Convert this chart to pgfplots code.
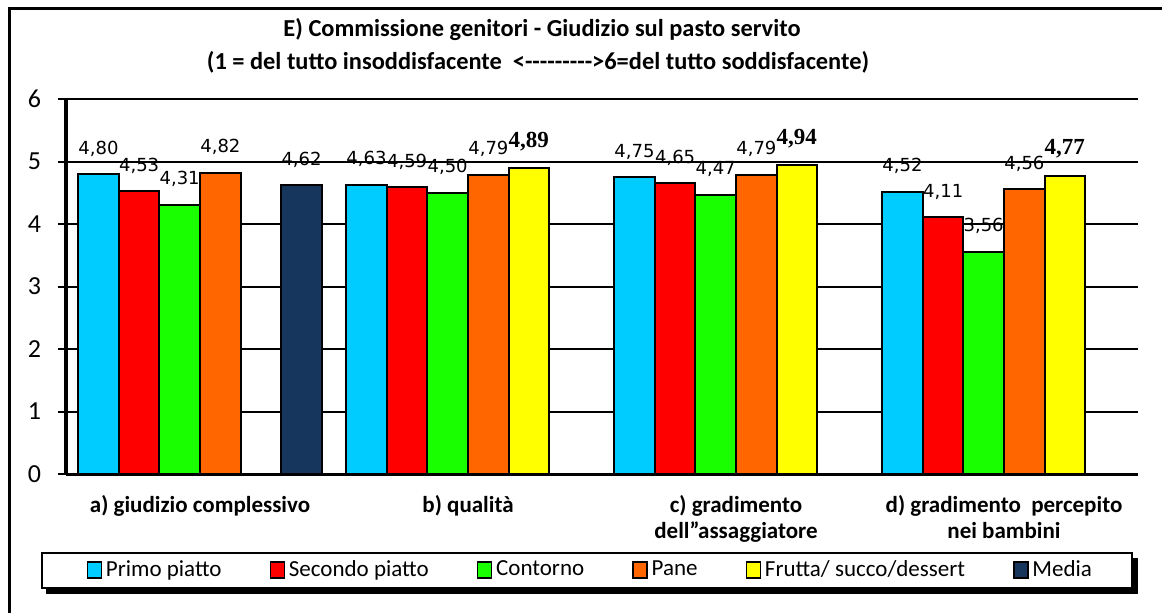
\documentclass[border=0pt]{standalone}
\usepackage{pgfplots}
\pgfplotsset{compat=1.18}
\usepackage{fontspec}
\setmainfont{Carlito}
\newfontfamily\plainfont{Carlito}
\newfontfamily\lblfont{DejaVu Sans}
\newfontfamily\boldlbl{Liberation Serif}
\definecolor{cPrimo}{HTML}{00CCFF}
\definecolor{cSecondo}{HTML}{FF0000}
\definecolor{cContorno}{HTML}{1AFF00}
\definecolor{cPane}{HTML}{FF6600}
\definecolor{cFrutta}{HTML}{FFFF00}
\definecolor{cMedia}{HTML}{17365D}
\pgfplotsset{
  mybar/.style={draw=black, line width=1pt, fill=#1,
    legend image code/.code={\draw[fill=#1,draw=black,line width=0.7pt] (0pt,-4pt) rectangle (7pt,4pt);}},
}
\begin{document}
\begin{tikzpicture}
\useasboundingbox (0,0) rectangle (581pt,306pt);
\fill[white] (0,0) rectangle (581pt,306pt);
\draw[line width=1.5pt] (4.5pt,-2pt) -- (4.5pt,301.5pt) -- (590pt,301.5pt);
\node[font=\bfseries\fontsize{12.2}{14}\selectfont] at (271pt,291pt) {E) Commissione genitori - Giudizio sul pasto servito};
\node[font=\plainfont\bfseries\fontsize{12.2}{14}\selectfont] at (269pt,275pt) {(1 = del tutto insoddisfacente \ <--------->6=del tutto soddisfacente)};
\fill[black] (23pt,9pt) rectangle (569pt,27pt);
\draw[line width=1pt,fill=white] (21pt,12pt) rectangle (566pt,29.5pt);
\begin{axis}[
  at={(33pt,69pt)}, anchor=south west,
  scale only axis, width=536pt, height=187.5pt,
  xmin=-0.5, xmax=3.5, ymin=0, ymax=6,
  ybar, bar width=0.1515,
  axis x line*=bottom, axis y line*=left,
  x axis line style={line width=1.5pt,-},
  y axis line style={line width=2pt,-},
  ymajorgrids, major grid style={black,line width=1pt},
  ytick={0,1,2,3,4,5,6},
  tick align=outside,
  major tick length=4pt,
  ytick style={black,line width=1pt},
  xtick={0,1,2,3},
  xtick style={draw=none},
  minor xtick={-0.5,0.5,1.5,2.5,3.5},
  minor tick length=4pt,
  minor x tick style={black,line width=1pt},
  xticklabels={{a) giudizio complessivo},{b) qualità},{c) gradimento\\dell''assaggiatore},{d) gradimento \ percepito\\nei bambini}},
  xticklabel style={align=center, font=\bfseries\fontsize{11.5}{13}\selectfont, yshift=-3pt},
  yticklabel style={font=\fontsize{13}{14}\selectfont, xshift=-5pt},
  /pgf/number format/assume math mode=true,
  nodes near coords={\pgfmathprintnumber[fixed,fixed zerofill,precision=2,use comma]{\pgfplotspointmeta}},
  every node near coord/.append style={font=\lblfont\fontsize{9}{10}\selectfont, yshift=5pt},
  legend style={at={(0.490,-0.256)}, anchor=center, draw=none, fill=none,
    font=\fontsize{11.5}{13}\selectfont,
    /tikz/every even column/.append style={column sep=22pt},
    /tikz/every odd column/.append style={column sep=0pt}},
  legend columns=6,
  clip=false,
]
\addplot[mybar=cPrimo, bar shift=-0.379] coordinates {(0,4.80) (1,4.63) (2,4.75) (3,4.52)};
\addplot[mybar=cSecondo, bar shift=-0.227] coordinates {(0,4.53) (1,4.59) (2,4.65) (3,4.11)};
\addplot[mybar=cContorno, bar shift=-0.076] coordinates {(0,4.31) (1,4.50) (2,4.47) (3,3.56)};
\addplot[mybar=cPane, bar shift=0.076] coordinates {(0,4.82) (1,4.79) (2,4.79) (3,4.56)};
\addplot[mybar=cFrutta, bar shift=0.227, every node near coord/.append style={font=\boldlbl\bfseries\fontsize{11.5}{12}\selectfont}] coordinates {(1,4.89) (2,4.94) (3,4.77)};
\addplot[mybar=cMedia, bar shift=0.379] coordinates {(0,4.62)};
\legend{Primo piatto, Secondo piatto, Contorno, Pane, Frutta/ succo/dessert, Media}
\end{axis}
\end{tikzpicture}
\end{document}
